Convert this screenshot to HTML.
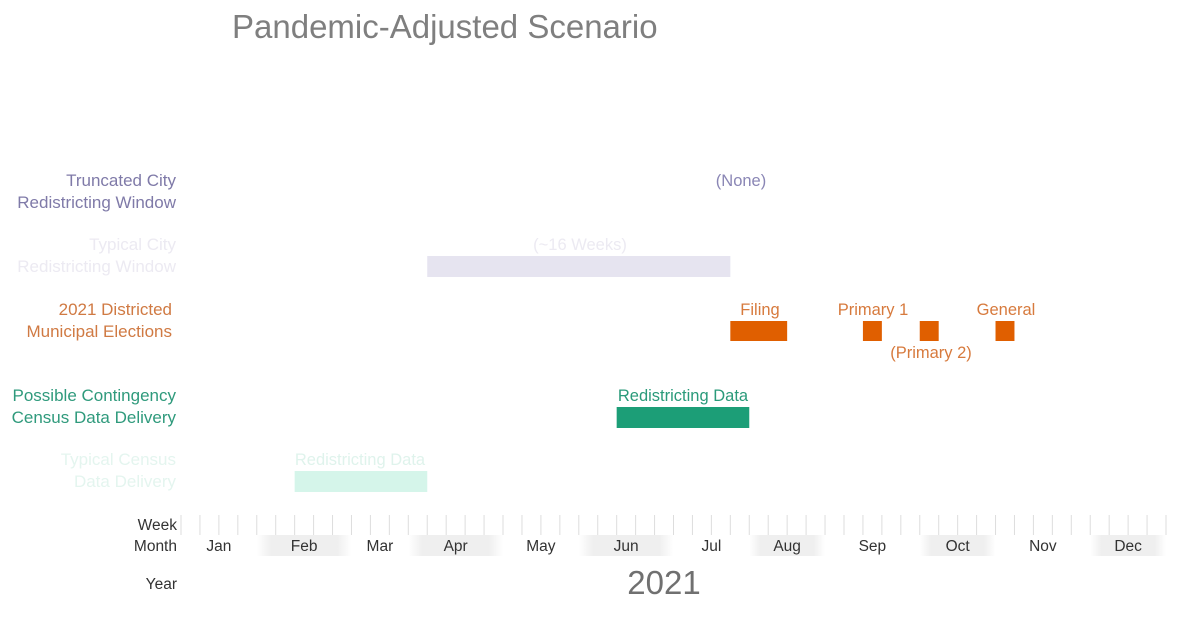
<!DOCTYPE html>
<html><head><meta charset="utf-8"><style>
body{margin:0;background:#fff;font-family:"Liberation Sans",sans-serif;}
svg text{font-family:"Liberation Sans",sans-serif;}
</style></head><body>
<svg id="chart" width="1200" height="621" xmlns="http://www.w3.org/2000/svg">
<defs>
<linearGradient id="band" x1="0" x2="1"><stop offset="0" stop-color="#fff"/><stop offset="0.15" stop-color="#efefef"/><stop offset="0.85" stop-color="#efefef"/><stop offset="1" stop-color="#fff"/></linearGradient>
</defs>
<text x="232" y="38" font-size="33" fill="#7f7f7f">Pandemic-Adjusted Scenario</text>
<g id="rows"></g>
<g id="axis"></g>
</svg>
<script>
const months=["Jan","Feb","Mar","Apr","May","Jun","Jul","Aug","Sep","Oct","Nov","Dec"];
const monthStartWeeks=[0,4,9,12,17,21,26,30,34,39,43,48];
const taskNames=["Typical City Window","Filing","Primary 1","Primary 2","General","Contingency Data","Typical Census Data"];
const taskStart=[13,29,36,39,43,23,6];
const taskEnd=[29,32,37,40,44,30,13];
const totalWeeks=52;
const NS="http://www.w3.org/2000/svg";
const x0=181,x1=1166;
const xs=w=>x0+w*(x1-x0)/totalWeeks;
function mk(tag,attrs,parent,txt){const e=document.createElementNS(NS,tag);for(const k in attrs)e.setAttribute(k,attrs[k]);if(txt!==undefined)e.textContent=txt;parent.appendChild(e);return e;}
const rows=document.getElementById('rows');
const axis=document.getElementById('axis');
const rowLabels=[
 [["Truncated City","Redistricting Window"],180,"#7f7aa8",176],
 [["Typical City","Redistricting Window"],244,"#eceaf2",176],
 [["2021 Districted","Municipal Elections"],309,"#d07a43",172],
 [["Possible Contingency","Census Data Delivery"],395,"#2f9a7c",176],
 [["Typical Census","Data Delivery"],459,"#e4f5ef",176]];
rowLabels.forEach(r=>{r[0].forEach((t,i)=>{const e=mk('text',{x:r[3],y:r[1]+6+i*22,'font-size':17,fill:r[2],'text-anchor':'end'},rows,t);

});});
const barY=[256,321,321,321,321,407,471];
const barH=[21,20,20,20,20,21,21];
const barC=["#e6e4f0","#e05f00","#e05f00","#e05f00","#e05f00","#1c9e77","#d5f5ea"];
taskNames.forEach((n,i)=>{const r=mk('rect',{x:xs(taskStart[i]),y:barY[i],width:xs(taskEnd[i])-xs(taskStart[i]),height:barH[i],fill:barC[i]},rows);

});
const ann=[["(None)",741,186,"#8a86b5"],["(~16 Weeks)",580,250,"#eceaf2"],["Filing",760,315,"#d77a3d"],["Primary 1",873,315,"#d77a3d"],["(Primary 2)",931,358,"#d77a3d"],["General",1006,315,"#d77a3d"],["Redistricting Data",683,401,"#2a9a7a"],["Redistricting Data",360,465,"#dff3ec"]];
ann.forEach(a=>{const e=mk('text',{x:a[1],y:a[2],'font-size':16.5,fill:a[3],'text-anchor':'middle'},rows,a[0]);

});
months.forEach((m,i)=>{const s=xs(monthStartWeeks[i]);const e2=i<11?xs(monthStartWeeks[i+1]):x1;
if(i%2==1){const b=mk('rect',{x:s,y:535,width:e2-s,height:21,fill:'url(#band)'},axis);

}
const t=mk('text',{x:(s+e2)/2,y:551,'font-size':15.5,fill:'#333','text-anchor':'middle'},axis,m);

});
for(let w=0;w<=totalWeeks;w++){const l=mk('line',{x1:xs(w),x2:xs(w),y1:515,y2:535,stroke:'#ddd','stroke-width':1},axis);

}
[["Week",530],["Month",551],["Year",589]].forEach(a=>{const t=mk('text',{x:177,y:a[1],'font-size':15.5,fill:'#333','text-anchor':'end'},axis,a[0]);

});
const yr=mk('text',{x:664,y:594,'font-size':33,fill:'#707070','text-anchor':'middle'},axis,"2021");


</script>
</body></html>
